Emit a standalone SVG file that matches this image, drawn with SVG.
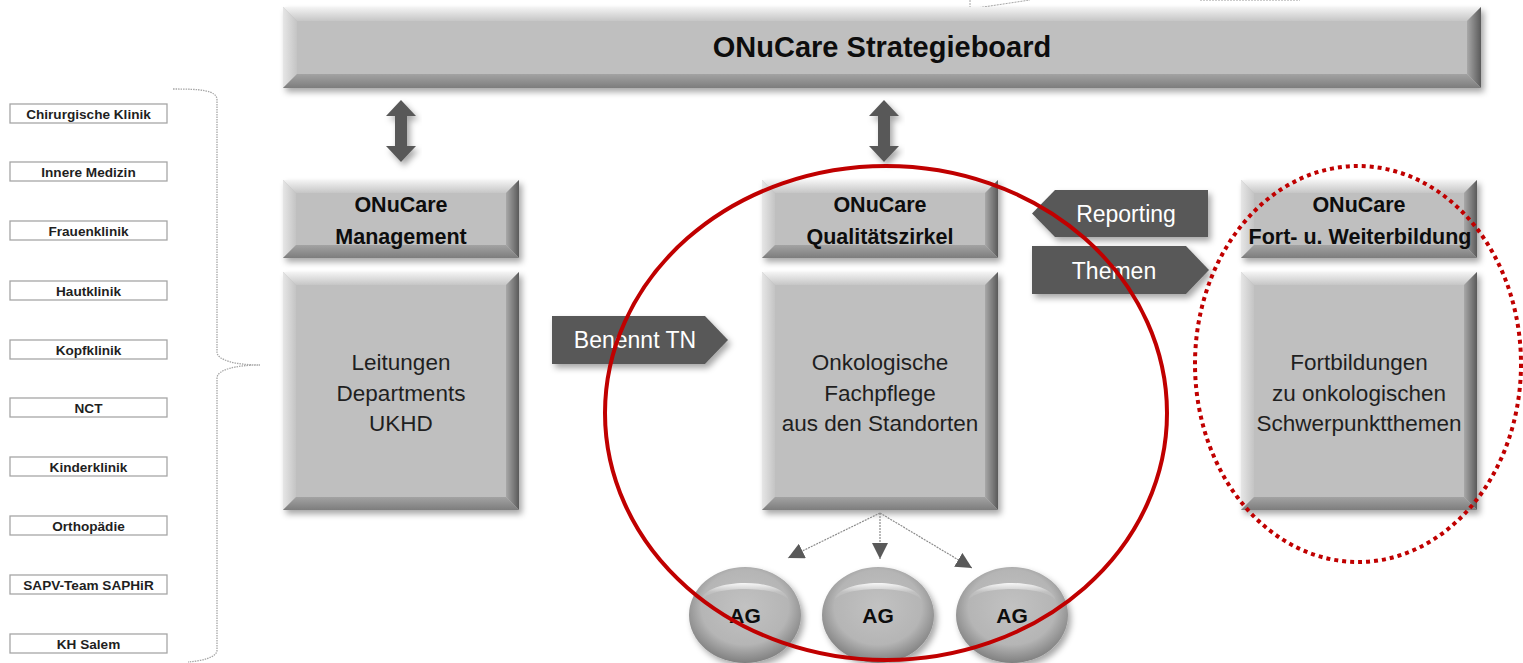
<svg xmlns="http://www.w3.org/2000/svg" xmlns:xlink="http://www.w3.org/1999/xlink" width="1523" height="663" viewBox="0 0 1523 663">
<style>
  .face{fill:#bfbfbf}
  .bt{fill:url(#gTop)} .bl{fill:url(#gLeft)} .br{fill:url(#gRight)} .bb{fill:url(#gBottom)}
  .hd{font-family:"Liberation Sans",Arial,sans-serif;font-weight:bold;font-size:21.5px;fill:#0d0d0d;text-anchor:middle}
  .bd{font-family:"Liberation Sans",Arial,sans-serif;font-size:22.5px;fill:#1f1f1f;text-anchor:middle}
  .lbl{font-family:"Liberation Sans",Arial,sans-serif;font-size:23px;fill:#ffffff;text-anchor:middle}
  .sm{font-family:"Liberation Sans",Arial,sans-serif;font-weight:bold;font-size:13.6px;fill:#1f1f1f;text-anchor:middle}
  .ag{font-family:"Liberation Sans",Arial,sans-serif;font-weight:bold;font-size:21px;fill:#0d0d0d;text-anchor:middle}
  .chev{fill:#595959}
  .lbox{fill:#ffffff;stroke:#a6a6a6;stroke-width:1.3}
  .dot{stroke:#8c8c8c;stroke-width:1.2;stroke-dasharray:2 1;fill:none}
  .dbl{fill:#595959}
</style>
<defs>
  <filter id="sh" x="-10%" y="-10%" width="130%" height="140%">
    <feDropShadow dx="3" dy="4" stdDeviation="3" flood-color="#000" flood-opacity="0.35"/>
  </filter>
  <linearGradient id="gTop" x1="0" y1="0" x2="0" y2="1"><stop offset="0" stop-color="#f4f4f4"/><stop offset="1" stop-color="#c6c6c6"/></linearGradient>
  <linearGradient id="gLeft" x1="0" y1="0" x2="1" y2="0"><stop offset="0" stop-color="#e6e6e6"/><stop offset="1" stop-color="#c4c4c4"/></linearGradient>
  <linearGradient id="gRight" x1="0" y1="0" x2="1" y2="0"><stop offset="0" stop-color="#a8a8a8"/><stop offset="1" stop-color="#5a5a5a"/></linearGradient>
  <linearGradient id="gBottom" x1="0" y1="0" x2="0" y2="1"><stop offset="0" stop-color="#a3a3a3"/><stop offset="1" stop-color="#7d7d7d"/></linearGradient>
  <radialGradient id="gAg" cx="0.5" cy="0.42" r="0.6">
    <stop offset="0" stop-color="#c2c2c2"/><stop offset="0.65" stop-color="#b5b5b5"/><stop offset="1" stop-color="#7a7a7a"/>
  </radialGradient>
  <linearGradient id="gHi" x1="0" y1="0" x2="0" y2="1"><stop offset="0" stop-color="#ffffff" stop-opacity="0.9"/><stop offset="0.5" stop-color="#ffffff" stop-opacity="0.15"/><stop offset="1" stop-color="#ffffff" stop-opacity="0"/></linearGradient>
  <g id="hdr">
    <rect class="face" x="0" y="0" width="236" height="78"/>
    <polygon class="bt" points="0,0 236,0 223,13 13,13"/>
    <polygon class="bl" points="0,0 13,13 13,65 0,78"/>
    <polygon class="br" points="236,0 236,78 223,65 223,13"/>
    <polygon class="bb" points="0,78 236,78 223,65 13,65"/>
  </g>
  <g id="bdy">
    <rect class="face" x="0" y="0" width="236" height="238"/>
    <polygon class="bt" points="0,0 236,0 223,13 13,13"/>
    <polygon class="bl" points="0,0 13,13 13,225 0,238"/>
    <polygon class="br" points="236,0 236,238 223,225 223,13"/>
    <polygon class="bb" points="0,238 236,238 223,225 13,225"/>
  </g>
  <g id="agShape">
    <ellipse cx="0" cy="0" rx="56" ry="48" fill="url(#gAg)"/>
    <path d="M-44,-14 C-40,-38 40,-38 44,-14 C36,-30 -36,-30 -44,-14 Z" fill="url(#gHi)"/>
  </g>
  <marker id="ah" viewBox="0 0 10 10" refX="10" refY="5" markerWidth="16" markerHeight="16" markerUnits="userSpaceOnUse" orient="auto">
    <path d="M0,0 L10,5 L0,10 Z" fill="#595959"/>
  </marker>
  <path id="dblArrow" d="M0,0 L15,16 L6,16 L6,46 L15,46 L0,62 L-15,46 L-6,46 L-6,16 L-15,16 Z"/>
</defs>

<rect width="1523" height="663" fill="#ffffff"/>

<!-- faint top lines -->
<path d="M970,0 L970,9 L1030,0" stroke="#a6a6a6" stroke-width="1" stroke-dasharray="2 1" fill="none"/>
<path d="M1200,0.5 L1300,0.5" stroke="#cccccc" stroke-width="1" stroke-dasharray="2 1" fill="none"/>

<!-- Left clinic boxes -->
<g id="clinics">
  <g id="c1"><rect class="lbox" x="10" y="104" width="157" height="19"/><text class="sm" x="88.5" y="118.5">Chirurgische Klinik</text></g>
  <g id="c2"><rect class="lbox" x="10" y="162" width="157" height="19"/><text class="sm" x="88.5" y="176.5">Innere Medizin</text></g>
  <g id="c3"><rect class="lbox" x="10" y="221" width="157" height="19"/><text class="sm" x="88.5" y="235.5">Frauenklinik</text></g>
  <g id="c4"><rect class="lbox" x="10" y="281" width="157" height="19"/><text class="sm" x="88.5" y="295.5">Hautklinik</text></g>
  <g id="c5"><rect class="lbox" x="10" y="340" width="157" height="19"/><text class="sm" x="88.5" y="354.5">Kopfklinik</text></g>
  <g id="c6"><rect class="lbox" x="10" y="398" width="157" height="19"/><text class="sm" x="88.5" y="412.5">NCT</text></g>
  <g id="c7"><rect class="lbox" x="10" y="457" width="157" height="19"/><text class="sm" x="88.5" y="471.5">Kinderklinik</text></g>
  <g id="c8"><rect class="lbox" x="10" y="516" width="157" height="19"/><text class="sm" x="88.5" y="530.5">Orthopädie</text></g>
  <g id="c9"><rect class="lbox" x="10" y="575" width="157" height="19"/><text class="sm" x="88.5" y="589.5">SAPV-Team SAPHiR</text></g>
  <g id="c10"><rect class="lbox" x="10" y="634" width="157" height="19"/><text class="sm" x="88.5" y="648.5">KH Salem</text></g>
</g>

<!-- brace -->
<g id="brace">
  <path d="M173,89 C200,89 217,90 217,100 L217,352 C217,360 235,365 260,365 C235,365 217,370 217,378 L217,650 C217,658 200,661 188,662" stroke="#a6a6a6" stroke-width="1.3" stroke-dasharray="1.5 1" fill="none"/>
</g>

<!-- Strategieboard -->
<g id="strategieboard">
  <g filter="url(#sh)">
    <rect class="face" x="283" y="7" width="1198" height="81"/>
    <polygon class="bt" points="283,7 1481,7 1467,21 297,21"/>
    <polygon class="bl" points="283,7 297,21 297,74 283,88"/>
    <polygon class="br" points="1481,7 1481,88 1467,74 1467,21"/>
    <polygon class="bb" points="283,88 1481,88 1467,74 297,74"/>
  </g>
  <text class="hd" x="882" y="57" style="font-size:29px">ONuCare Strategieboard</text>
</g>

<!-- Management -->
<g id="management">
  <use href="#hdr" x="283" y="180" filter="url(#sh)"/>
  <text class="hd" x="401" y="212">ONuCare</text>
  <text class="hd" x="401" y="244">Management</text>
</g>
<g id="leitungen">
  <use href="#bdy" x="283" y="272" filter="url(#sh)"/>
  <text class="bd" x="401" y="370">Leitungen</text>
  <text class="bd" x="401" y="401">Departments</text>
  <text class="bd" x="401" y="431">UKHD</text>
</g>

<!-- Qualitätszirkel -->
<g id="qualitaetszirkel">
  <use href="#hdr" x="762" y="180" filter="url(#sh)"/>
  <text class="hd" x="880" y="212">ONuCare</text>
  <text class="hd" x="880" y="244">Qualitätszirkel</text>
</g>
<g id="fachpflege">
  <use href="#bdy" x="762" y="272" filter="url(#sh)"/>
  <text class="bd" x="880" y="370">Onkologische</text>
  <text class="bd" x="880" y="401">Fachpflege</text>
  <text class="bd" x="880" y="431">aus den Standorten</text>
</g>

<!-- Fort- u. Weiterbildung -->
<g id="fortbildung">
  <use href="#hdr" x="1241" y="180" filter="url(#sh)"/>
  <text class="hd" x="1359" y="212">ONuCare</text>
  <text class="hd" x="1360" y="244">Fort- u. Weiterbildung</text>
</g>
<g id="fortbildungen">
  <use href="#bdy" x="1241" y="272" filter="url(#sh)"/>
  <text class="bd" x="1359" y="370">Fortbildungen</text>
  <text class="bd" x="1359" y="401">zu onkologischen</text>
  <text class="bd" x="1359" y="431">Schwerpunktthemen</text>
</g>

<!-- Chevron labels -->
<g id="reporting">
  <polygon class="chev" points="1208,190 1208,237 1055,237 1032,213.5 1055,190" filter="url(#sh)"/>
  <text class="lbl" x="1126" y="222">Reporting</text>
</g>
<g id="themen">
  <polygon class="chev" points="1032,246 1186,246 1209,270 1186,294 1032,294" filter="url(#sh)"/>
  <text class="lbl" x="1114" y="279">Themen</text>
</g>
<g id="benennt">
  <polygon class="chev" points="552,316 705,316 728,340 705,364 552,364" filter="url(#sh)"/>
  <text class="lbl" x="635" y="348">Benennt TN</text>
</g>

<!-- AG nodes -->
<g id="ag1">
  <use href="#agShape" x="745" y="615" filter="url(#sh)"/>
  <text class="ag" x="745" y="623">AG</text>
</g>
<g id="ag2">
  <use href="#agShape" x="878" y="615" filter="url(#sh)"/>
  <text class="ag" x="878" y="623">AG</text>
</g>
<g id="ag3">
  <use href="#agShape" x="1012" y="615" filter="url(#sh)"/>
  <text class="ag" x="1012" y="623">AG</text>
</g>

<!-- Connectors -->
<g id="connectors">
  <use href="#dblArrow" x="401" y="100" class="dbl" filter="url(#sh)"/>
  <use href="#dblArrow" x="884" y="100" class="dbl" filter="url(#sh)"/>
  <path class="dot" d="M880,513 L788,558" marker-end="url(#ah)"/>
  <path class="dot" d="M880,513 L880,559" marker-end="url(#ah)"/>
  <path class="dot" d="M880,513 L972,568" marker-end="url(#ah)"/>
</g>

<!-- Red highlight ellipses -->
<g id="highlights">
  <ellipse cx="886" cy="413" rx="281" ry="247" fill="none" stroke="#c00000" stroke-width="4"/>
  <ellipse cx="1358" cy="364" rx="163" ry="198" fill="none" stroke="#c00000" stroke-width="4" stroke-dasharray="4 4"/>
</g>
</svg>
